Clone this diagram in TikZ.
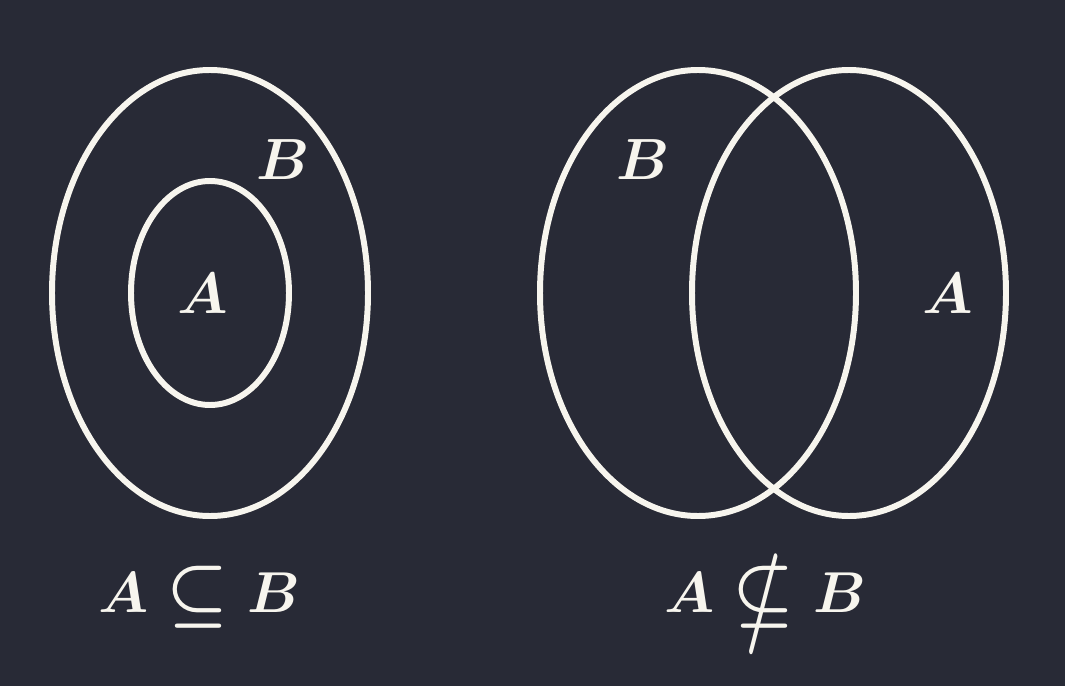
\documentclass[tikz,border=0pt]{standalone}
\usepackage{amssymb}
\usepackage{graphicx}
\definecolor{bg}{HTML}{282A36}
\definecolor{fg}{HTML}{F7F5EE}
\newcommand\bigsubeq{\mathrel{\raisebox{-0.05em}{\scalebox{1.2}{$\subseteq$}}}}
\newcommand\bignsubeq{\mathrel{\ooalign{\raisebox{-0.05em}{\scalebox{1.2}{$\subseteq$}}\cr\hidewidth\raisebox{-0.3em}{\scalebox{1.1}[1.75]{$/$}}\hidewidth\cr}}}
\begin{document}
\begin{tikzpicture}[x=0.02cm,y=-0.02cm,
  setline/.style={draw=fg,line width=3.4pt},
  lbl/.style={text=fg,font=\fontsize{24.88}{30}\selectfont\boldmath,inner sep=0pt},
  captext/.style={text=fg,font=\fontsize{24.88}{30}\selectfont\boldmath,inner sep=0pt,anchor=base}]
\fill[bg] (0,0) rectangle (1065,686);
\useasboundingbox (0,0) rectangle (1065,686);
% left diagram
\draw[setline] (210,293) ellipse [x radius=158, y radius=223];
\draw[setline] (210,293) ellipse [x radius=79, y radius=112];
\node[lbl] (lA) at (203,294) {\scalebox{1.33}{$A$}};
\node[lbl] (lB) at (283,160) {\scalebox{1.33}{$B$}};
\node[captext] (capL) at (199,612) {\scalebox{1.32}{$A\bigsubeq B$}};
% right diagram
\draw[setline] (698,293) ellipse [x radius=158, y radius=223];
\draw[setline] (849,293) ellipse [x radius=157, y radius=223];
\node[lbl] (rB) at (643,160) {\scalebox{1.33}{$B$}};
\node[lbl] (rA) at (948,294) {\scalebox{1.33}{$A$}};
\node[captext] (capR) at (765,612) {\scalebox{1.32}{$A\bignsubeq B$}};
\end{tikzpicture}
\end{document}
